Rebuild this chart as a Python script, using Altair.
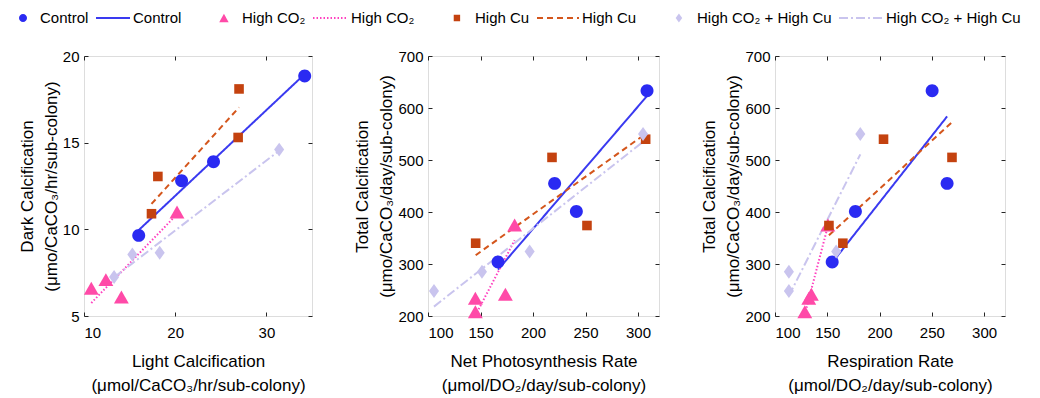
import altair as alt
import pandas as pd

groups = ["Control", "High CO₂", "High Cu", "High CO₂ + High Cu"]

# Panel 1: light vs dark calcification
p1_control_x = [16.0, 20.7, 24.2, 34.2]
p1_control_y = [9.65, 12.8, 13.9, 18.85]
p1_co2_x = [10.8, 12.4, 14.1, 20.2]
p1_co2_y = [6.6, 7.1, 6.1, 11.0]
p1_cu_x = [17.4, 18.1, 26.9, 27.0]
p1_cu_y = [10.9, 13.05, 15.3, 18.1]
p1_both_x = [13.3, 15.3, 18.3, 31.4]
p1_both_y = [7.25, 8.55, 8.65, 14.6]

# Panels 2 & 3: total calcification vs net photosynthesis / respiration
total_control = [304, 455, 401, 633]
photo_control = [166.7, 220.6, 241.3, 308.6]
resp_control = [154.7, 264.6, 176.9, 250.3]

total_co2 = [234, 208, 242, 375]
photo_co2 = [145.1, 145.1, 173.7, 182.5]
resp_co2 = [132.3, 128.5, 134.8, 150.6]

total_cu = [340, 505, 374, 540]
photo_cu = [145.4, 218.1, 251.4, 307.3]
resp_cu = [164.9, 269.3, 151.6, 203.8]

total_both = [248, 285, 324, 550]
photo_both = [105.7, 151.4, 196.8, 304.8]
resp_both = [113.3, 113.3, 158.5, 181.6]

marker_colors = ["#2a2af2", "#ff4aa8", "#c4420f", "#c9c4ee"]
line_colors = ["#3a3af0", "#ff40c0", "#d4561c", "#c9c4ee"]
# marker outlines used in the plots (unit-square symbol paths)
plot_shapes = [
    "M-0.27,0A0.27,0.27,0,1,1,0.27,0A0.27,0.27,0,1,1,-0.27,0Z",
    "M0,-0.27L0.31,0.27L-0.31,0.27Z",
    "M-0.2,-0.2L0.2,-0.2L0.2,0.2L-0.2,0.2Z",
    "M0,-0.29L0.21,0L0,0.29L-0.21,0Z",
]
# smaller marker outlines used in the legend icons
legend_shapes = [
    "M-0.286,0A0.286,0.286,0,1,1,0.286,0A0.286,0.286,0,1,1,-0.286,0Z",
    "M0.397,-0.172L0.585,0.172L0.209,0.172Z",
    "M0.269,-0.128L0.525,-0.128L0.525,0.128L0.269,0.128Z",
    "M0.397,-0.184L0.529,0L0.397,0.184L0.265,0Z",
]
legend_icon_sizes = [784, 2500, 2500, 2500]
legend_line_sizes = [1156, 1225, 1764, 1936]
line_dashes = [[1, 0], [1.5, 2], [6, 4], [9, 3, 2, 3]]

FONT = "Liberation Sans"
INK = "#262626"


def frame(panel, group, xs, ys):
    return pd.DataFrame({"panel": panel, "group": group, "x": xs, "y": ys})


df1 = pd.concat([
    frame(1, groups[0], p1_control_x, p1_control_y),
    frame(1, groups[1], p1_co2_x, p1_co2_y),
    frame(1, groups[2], p1_cu_x, p1_cu_y),
    frame(1, groups[3], p1_both_x, p1_both_y),
])
df2 = pd.concat([
    frame(2, groups[0], photo_control, total_control),
    frame(2, groups[1], photo_co2, total_co2),
    frame(2, groups[2], photo_cu, total_cu),
    frame(2, groups[3], photo_both, total_both),
])
df3 = pd.concat([
    frame(3, groups[0], resp_control, total_control),
    frame(3, groups[1], resp_co2, total_co2),
    frame(3, groups[2], resp_cu, total_cu),
    frame(3, groups[3], resp_both, total_both),
])

keys, fills, strokes, shapes, sizes, dashes = [], [], [], [], [], []
legend_keys = []
for i, g in enumerate(groups):
    # plot marker, legend marker, regression line
    keys += [g + "|pt", g + "|lp", g + "|ln"]
    legend_keys += [g + "|lp", g + "|ln"]
    fills += [marker_colors[i], marker_colors[i], "transparent"]
    strokes += ["transparent", "transparent", line_colors[i]]
    shapes += [plot_shapes[i], legend_shapes[i], "stroke"]
    sizes += [784, legend_icon_sizes[i], legend_line_sizes[i]]
    dashes += [[1, 0], [1, 0], line_dashes[i]]

legend = alt.Legend(
    title=None, orient="none", direction="horizontal", legendX=-76, legendY=-46,
    values=legend_keys,
    labelExpr="split(datum.label, '|')[0]",
    labelFont=FONT, labelFontSize=15,
    labelColor="#000000", columnPadding=6, labelOffset=2, symbolStrokeWidth=2,
    clipHeight=16,
)

fill_enc = alt.Fill("key:N", scale=alt.Scale(domain=keys, range=fills), legend=legend)
stroke_enc = alt.Stroke("key:N", scale=alt.Scale(domain=keys, range=strokes), legend=legend)
shape_enc = alt.Shape("key:N", scale=alt.Scale(domain=keys, range=shapes), legend=legend)
size_enc = alt.Size("key:N", scale=alt.Scale(type="ordinal", domain=keys, range=sizes), legend=legend)
dash_enc = alt.StrokeDash("key:N", scale=alt.Scale(domain=keys, range=dashes), legend=legend)


def axis_main(orient, values, title, lpad, tpad):
    return alt.Axis(orient=orient, values=values, title=title, offset=-4, tickSize=4,
                    tickColor=INK, domain=False, grid=False, labelPadding=lpad,
                    labelFont=FONT, labelFontSize=15, labelColor="#000000",
                    titleFont=FONT, titleFontSize=17, titleFontWeight="normal",
                    titleColor="#000000", titlePadding=tpad, titleLineHeight=24)


def axis_side(orient, values):
    return alt.Axis(orient=orient, values=values, title=None, labels=False, offset=-4,
                    tickSize=4, tickColor=INK, domain=False, grid=False)


def panel(data, xdom, xvals, ydom, yvals, xtitle, ytitle, w):
    base = alt.Chart(data)
    xs = alt.Scale(domain=xdom, nice=False, zero=False)
    ys = alt.Scale(domain=ydom, nice=False, zero=False)
    pts = base.transform_calculate(key="datum.group + '|pt'").mark_point(
        filled=True, opacity=1, size=2300
    ).encode(
        x=alt.X("x:Q", scale=xs, axis=axis_main("bottom", xvals, xtitle, 9, 13)),
        y=alt.Y("y:Q", scale=ys, axis=axis_main("left", yvals, ytitle, 5, 2)),
        fill=fill_enc, shape=shape_enc,
    )
    # reduced major axis fit per treatment, spanning the treatment's x range
    lines = base.transform_joinaggregate(
        mx="mean(x)", my="mean(y)", sx="stdev(x)", sy="stdev(y)", groupby=["group"]
    ).transform_calculate(
        fit="datum.my + datum.sy / datum.sx * (datum.x - datum.mx)",
        key="datum.group + '|ln'",
    ).mark_line(strokeWidth=2, opacity=1).encode(
        x=alt.X("x:Q", scale=xs, axis=axis_side("top", xvals)),
        y=alt.Y("fit:Q", scale=ys, axis=axis_side("right", yvals)),
        stroke=stroke_enc, strokeDash=dash_enc, detail="group:N",
    )
    legend_sizes = base.transform_filter("false").mark_point(opacity=1).encode(
        size=size_enc
    )
    return alt.layer(lines, pts, legend_sizes).resolve_axis(
        x="independent", y="independent"
    ).properties(width=w, height=260)


c1 = panel(df1, [10, 35], [10, 20, 30], [5, 20], [5, 10, 15, 20],
           ["Light Calcification", "(μmol/CaCO₃/hr/sub-colony)"],
           ["Dark Calcification", "(μmo/CaCO₃/hr/sub-colony)"], 228)
c2 = panel(df2, [100, 320], [100, 150, 200, 250, 300], [200, 700], [200, 300, 400, 500, 600, 700],
           ["Net Photosynthesis Rate", "(μmol/DO₂/day/sub-colony)"],
           ["Total Calcification", "(μmo/CaCO₃/day/sub-colony)"], 231)
c3 = panel(df3, [100, 320], [100, 150, 200, 250, 300], [200, 700], [200, 300, 400, 500, 600, 700],
           ["Respiration Rate", "(μmol/DO₂/day/sub-colony)"],
           ["Total Calcification", "(μmo/CaCO₃/day/sub-colony)"], 230)

chart = alt.hconcat(c1, c2, c3, spacing=40).resolve_scale(
    fill="shared", stroke="shared", shape="shared", size="shared", strokeDash="shared"
).properties(
    padding={"left": 0, "top": 2, "right": 2, "bottom": 0}
).configure_view(stroke=INK, strokeWidth=1).configure(background="white")

chart.save("out.html", embed_options={"renderer": "svg", "actions": False})
